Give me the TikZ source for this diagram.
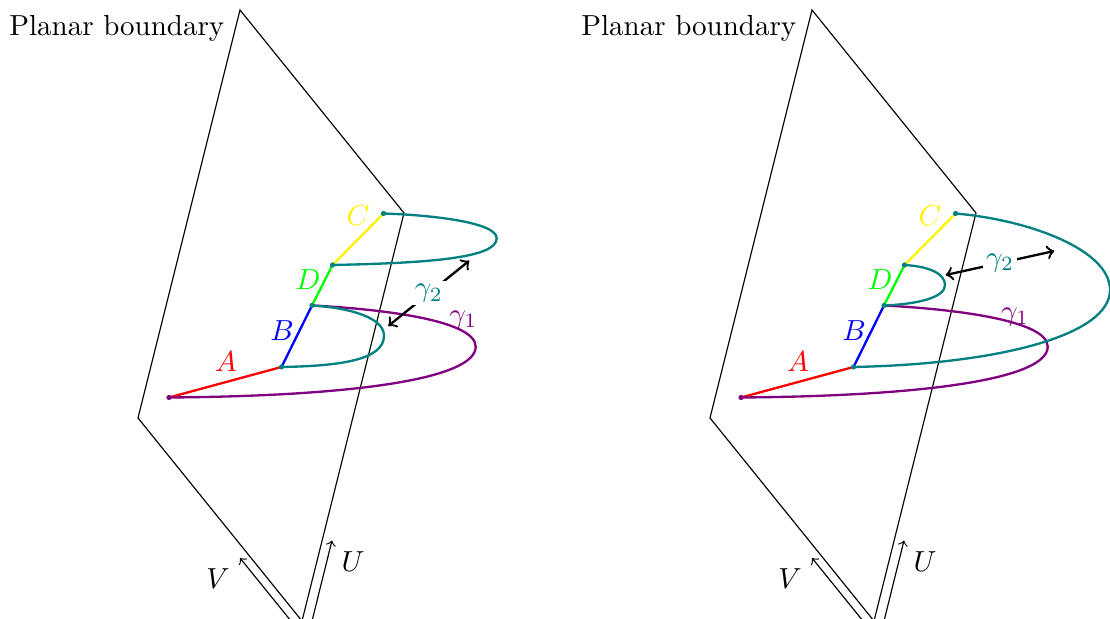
\documentclass[tikz,border=0pt]{standalone}
\definecolor{curvepurple}{RGB}{128,0,128}

\begin{document}
\begin{tikzpicture}[x=1.212cm, y=1.212cm]
    \useasboundingbox (0,0) rectangle (11.10,-6.19);
    % the two panels share the plane, the axes and the segments A, B, D, C
    \foreach \s/\n in {0/l, 5.72/r} {
        \begin{scope}[shift={(\s,0)}]
            \coordinate (\n-top) at (2.40,-0.10);
            \coordinate (\n-right) at (4.04,-2.13);
            \coordinate (\n-bot) at (3.02,-6.21);
            \coordinate (\n-left) at (1.38,-4.18);
            \draw (\n-top) -- (\n-right) -- (\n-bot) -- (\n-left) -- cycle;
            \node[anchor=east] (\n-plane) at (2.345,-0.28) {Planar boundary};
            \coordinate (\n-v0) at (2.91,-6.21);
            \coordinate (\n-v1) at (2.40,-5.58);
            \coordinate (\n-u0) at (3.12,-6.21);
            \coordinate (\n-u1) at (3.32,-5.405);
            \draw[->] (\n-v0) -- (\n-v1);
            \draw[->] (\n-u0) -- (\n-u1);
            \node (\n-V) at (2.18,-5.79) {$V$};
            \node (\n-U) at (3.53,-5.62) {$U$};
            \coordinate (\n-p0) at (1.69,-3.975);
            \coordinate (\n-pa) at (2.815,-3.67);
            \coordinate (\n-pb) at (3.12,-3.055);
            \coordinate (\n-pd) at (3.325,-2.65);
            \coordinate (\n-pc) at (3.835,-2.135);
            \draw[thick, red] (\n-p0) -- (\n-pa);
            \draw[thick, blue] (\n-pa) -- (\n-pb);
            \draw[thick, green] (\n-pb) -- (\n-pd);
            \draw[thick, yellow] (\n-pd) -- (\n-pc);
            \node[text=red] (\n-A) at (2.26,-3.62) {$A$};
            \node[text=blue] (\n-B) at (2.82,-3.31) {$B$};
            \node[text=green] (\n-D) at (3.08,-2.80) {$D$};
            \node[text=yellow] (\n-C) at (3.58,-2.16) {$C$};
            % gamma_1
            \draw[thick, curvepurple] (\n-p0) .. controls (3.6,-3.96) and (4.757,-3.78) .. (4.757,-3.467)
                .. controls (4.757,-3.2) and (3.8,-3.09) .. (\n-pb);
        \end{scope}
    }
    % gamma_2, left
    \draw[thick, teal] (l-pa) .. controls (3.4,-3.66) and (3.84,-3.6) .. (3.84,-3.357)
        .. controls (3.84,-3.15) and (3.4,-3.07) .. (l-pb);
    \draw[thick, teal] (l-pd) .. controls (4.3,-2.63) and (4.967,-2.58) .. (4.967,-2.383)
        .. controls (4.967,-2.22) and (4.3,-2.15) .. (l-pc);
    % gamma_2, right
    \draw[thick, teal] (r-pd) .. controls (9.3,-2.665) and (9.45,-2.74) .. (9.45,-2.85)
        .. controls (9.45,-2.97) and (9.2,-3.04) .. (r-pb);
    \draw[thick, teal] (r-pa) .. controls (10.0,-3.64) and (11.10,-3.35) .. (11.10,-2.90)
        .. controls (11.10,-2.50) and (10.3,-2.20) .. (r-pc);
    % curve labels
    \node[text=curvepurple] (l-g1) at (4.633,-3.20) {$\gamma_1$};
    \node[text=curvepurple] (r-g1) at (10.15,-3.167) {$\gamma_1$};
    \coordinate (l-g2a) at (3.883,-3.26);
    \coordinate (l-g2b) at (4.693,-2.607);
    \coordinate (r-g2a) at (9.457,-2.75);
    \coordinate (r-g2b) at (10.543,-2.51);
    \draw[thick, <->] (l-g2a) -- node[fill=white, text=teal, inner sep=1pt] (l-g2) {$\gamma_2$} (l-g2b);
    \draw[thick, <->] (r-g2a) -- node[fill=white, text=teal, inner sep=1pt] (r-g2) {$\gamma_2$} (r-g2b);
    % end points
    \foreach \n in {l, r} {
        \fill[curvepurple] (\n-p0) circle (0.9pt);
        \foreach \p in {pa, pb, pd, pc}
            \fill[teal] (\n-\p) circle (0.9pt);
    }
\end{tikzpicture}
\end{document}
